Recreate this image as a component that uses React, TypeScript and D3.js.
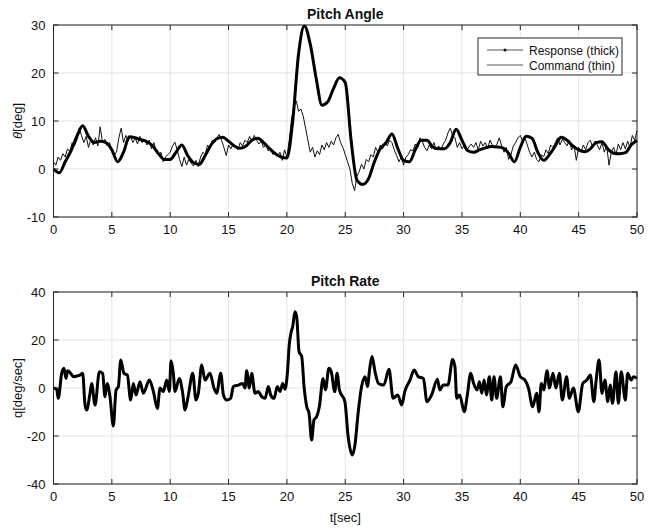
import React from "react";
import * as d3 from "d3";

// ---- Data ----
const xTicks = [0, 5, 10, 15, 20, 25, 30, 35, 40, 45, 50];
const thetaTicks = [-10, 0, 10, 20, 30];
const qTicks = [-40, -20, 0, 20, 40];

// Response (thick), sampled every 0.5 s from t = 0 to 50
const responseStep = 0.5;
const response = [
  0, -0.8, 1.5, 3.8, 6.8, 9.0, 6.8, 5.5, 5.8, 5.5,
  4.0, 1.5, 3.5, 6.7, 6.5, 6.1, 5.7, 4.8, 3.2, 2.0,
  2.0, 3.5, 5.0, 2.8, 1.3, 1.0, 2.8, 5.0, 6.3, 6.6,
  5.8, 4.8, 4.3, 4.8, 6.0, 6.4, 5.5, 4.3, 3.2, 2.5,
  2.3, 10.0, 24.0, 29.8, 26.0, 19.0, 13.3, 14.0, 16.8, 19.0,
  18.0, 6.0, -2.3, -3.2, -2.0, 1.5, 4.2, 5.5, 7.3, 4.3,
  1.8, 1.5, 4.0, 6.0, 6.0, 4.6, 4.2, 4.2, 5.5, 8.3,
  6.0, 3.8, 3.5, 4.0, 4.4, 4.7, 4.6, 4.4, 3.3, 1.5,
  4.5, 6.8, 6.4, 3.5, 1.8, 3.0, 4.8, 6.6, 6.0, 4.8,
  4.0, 3.6, 4.2, 5.5, 5.7, 4.2, 3.3, 3.2, 3.4, 5.0,
  6.0,
];

// Command (thin), sampled every 0.2 s from t = 0 to 50
const commandStep = 0.2;
const command = [
  1.5, 0.8, 2.5, 1.8, 3.2,  2.5, 4.2, 3.6, 5.5, 4.8,
  6.0, 8.5, 7.0, 5.5, 6.8,  4.5, 6.2, 5.0, 6.5, 4.8,
  8.8, 5.5, 6.2, 4.8, 5.5,  3.5, 2.8, 3.5, 6.5, 8.5,
  5.5, 7.0, 5.8, 6.8, 5.5,  6.5, 5.2, 6.8, 5.5, 6.2,
  5.0, 6.0, 4.2, 5.5, 3.5,  2.8, 3.5, 1.5, 2.5, 3.0,
  3.5, 4.8, 5.6, 4.0, 2.0,  0.5, 2.5, 0.8, 2.0, 1.2,
  0.6, 1.8, 0.5, 2.5, 3.5,  3.0, 5.0, 4.2, 6.0, 5.5,
  6.5, 7.2, 6.0, 4.5, 2.8,  5.0, 4.2, 5.2, 4.5, 4.0,
  5.5, 4.8, 6.0, 5.5, 6.8,  5.8, 7.0, 6.0, 5.2, 5.8,
  4.5, 5.0, 3.8, 4.2, 3.0,  3.5, 2.5, 3.5, 1.8, 4.0,
  2.5, 6.0, 10.5, 13.0, 14.2,  12.0, 12.5, 11.0, 8.5, 6.0,
  3.5, 4.5, 2.5, 3.8, 3.0,  5.0, 4.0, 5.5, 4.5, 5.8,
  5.0, 6.5, 7.2, 5.5, 4.5,  3.0, 1.5, 0.0, -3.0, -4.5,
  -1.5, -0.5, 1.0, 0.0, 2.0,  1.5, 3.0, 2.5, 4.5, 3.5,
  5.0, 4.2, 5.5, 4.8, 6.0,  5.5, 4.0, 2.8, 1.5, 2.5,
  0.8, 2.5, 3.0, 4.0, 3.8,  5.2, 4.5, 6.5, 5.8, 4.5,
  3.8, 5.0, 4.2, 5.5, 4.0,  4.8, 4.0, 5.2, 6.0, 7.5,
  8.5, 7.0, 6.5, 4.5, 5.5,  4.2, 5.0, 3.8, 4.6, 5.2,
  4.5, 5.5, 4.0, 5.8, 4.8,  5.5, 4.2, 6.0, 5.0, 4.5,
  5.2, 6.5, 4.8, 3.5, 4.5,  2.0, 3.0, 4.8, 5.5, 6.5,
  7.0, 5.8, 6.5, 5.0, 3.5,  2.5, 3.5, 2.0, 1.5, 3.0,
  2.5, 4.0, 3.2, 5.0, 4.5,  5.5, 6.5, 5.0, 6.2, 5.5,
  4.8, 6.0, 4.0, 5.0, 1.8,  4.5, 3.5, 5.0, 4.0, 5.5,
  6.0, 4.5, 5.8, 5.0, 4.0,  5.5, 3.5, 4.8, 0.8, 3.5,
  4.5, 3.0, 5.2, 4.0, 5.5,  4.2, 5.8, 4.5, 7.0, 6.0,
  8.0,
];

// Pitch rate q: times and values read at the turning points
const qTime = [
  0, 0.27, 0.41, 0.7, 0.9, 1.07, 1.21, 1.47, 1.7, 2.0, 2.27, 2.5, 2.7, 2.84,
  3.13, 3.27, 3.56, 3.93, 4.21, 4.41, 4.6, 4.84, 5.13, 5.36, 5.56, 5.76, 6.04,
  6.33, 6.61, 6.84, 7.07, 7.41, 7.7, 8.21, 8.56, 8.9, 9.13, 9.41, 9.7, 9.93,
  10.07, 10.27, 10.41, 10.78, 11.07, 11.27, 11.56, 11.93, 12.21, 12.41, 12.7,
  12.98, 13.41, 13.75, 13.98, 14.33, 14.56, 14.84, 15.18, 15.41, 15.84, 16.21,
  16.41, 16.55, 16.78, 16.98, 17.27, 17.55, 17.84, 18.13, 18.41, 18.61, 18.9,
  19.18, 19.41, 19.64, 19.84, 20.04, 20.2, 20.35, 20.5, 20.69, 20.84, 21.04,
  21.27, 21.47, 21.7, 21.9, 22.12, 22.32, 22.55, 22.78, 23.1, 23.3, 23.6, 23.8,
  24.1, 24.3, 24.5, 24.97, 25.25, 25.6, 25.83, 26.1, 26.4, 26.7, 26.9, 27.1,
  27.3, 27.55, 27.85, 28.3, 28.75, 29.1, 29.5, 29.84, 30.1, 30.55, 30.9, 31.26,
  31.7, 32.0, 32.4, 32.9, 33.1, 33.4, 33.8, 34.2, 34.4, 34.55, 34.8, 35.2,
  35.46, 35.75, 36.0, 36.3, 36.5, 36.7, 36.9, 37.1, 37.35, 37.55, 37.75, 37.97,
  38.3, 38.5, 38.8, 39.2, 39.6, 40.0, 40.4, 40.7, 41.06, 41.4, 41.6, 41.8, 42.0,
  42.3, 42.5, 42.8, 43.05, 43.35, 43.6, 43.97, 44.2, 44.55, 44.97, 45.35, 45.7,
  46.0, 46.3, 46.5, 46.75, 47.0, 47.25, 47.5, 47.7, 47.9, 48.2, 48.4, 48.65,
  49.0, 49.2, 49.5, 49.7, 50,
];
const qValue = [
  0, -0.5, -4.3, 6.1, 8.2, 4.0, 7.2, 6.1, 4.7, 5.0, 5.4, 6.1, -7.0, -9.2,
  -2.2, 1.9, -7.1, 6.8, 6.1, -3.6, 1.9, -3.6, -15.8, -0.8, 0.6, 11.7, 6.1,
  5.4, -5.0, 1.9, -2.9, 2.6, -2.2, 3.3, -1.5, -8.5, 0, -1.5, 3.3, -1.5,
  11.4, 6.1, -1.5, 4.0, -2.2, -9.2, -2.9, 6.1, -5.0, -2.2, 9.6,
  3.3, 6.1, 0, -2.2, 6.1, -2.9, -5.0, -4.3, 0.6, 1.2, 1.9,
  0, 7.2, 0, 6.1, -2.2, -1.5, -3.6, -4.3, 0.6, -2.9, -4.3,
  0.6, -1.5, 1.9, -0.5, 6.1, 18, 23, 25.6, 31.8, 29.7, 15.1,
  13.1, 0.6, -7.8, -10.6, -21.7, -13.3, -11.9, -7.8, 4.0, -0.8, 8.2, 6.8,
  -1.5, 6.1, -0.8, -5.7, -20.3, -27.9, -23.8, -10.6, 0.6, 4.7, 0.6, 8.2,
  13.1, 6.8, 1.9, 1.2, 7.8, -4.3, -2.9, -7.1, -1.5, 3.3, 7.5, 4.7,
  4.0, -5.7, -2.9, 3.6, -0.8, 1.2, 1.2, 11.9, 8.9, -4.3, -2.9, -9.9,
  -2.9, 6.1, 1.9, -0.8, 2.6, -2.2, 3.3, -2.9, 4.7, -5.0, 4.7, -4.3,
  4.7, -7.8, 0.6, 2.6, 9.6, 4.7, 3.3, 0, -7.8, -2.2, -9.9, 1.9, -0.8,
  7.2, 0, 6.1, 0, 6.1, -5.0, 4.7, -4.3, 0, -9.9, 1.9, 3.3,
  5.4, -5.7, 3.3, 11.7, -2.2, 3.3, -5.7, 1.2, -6.4, 6.8, -6.4, 6.8,
  -5.0, 6.1, 3.3, 4.7, 4,
];

const FONT = "'Liberation Sans', Arial, Helvetica, sans-serif";
const AXIS = "#262626";
const GRID = "#e3e3e3";

const W = 650;
const H = 529;
const left = 53.5;
const right = 637;

const x = d3.scaleLinear().domain([0, 50]).range([left, right]);
const yTop = d3.scaleLinear().domain([-10, 30]).range([217, 25]);
const yBot = d3.scaleLinear().domain([-40, 40]).range([484, 292]);

type Pt = [number, number];

function Panel({
  y,
  yTicks,
  title,
  ylabel,
  children,
}: {
  y: d3.ScaleLinear<number, number>;
  yTicks: number[];
  title: string;
  ylabel: React.ReactNode;
  children?: React.ReactNode;
}) {
  const [y0, y1] = y.range();
  const top = Math.min(y0, y1);
  const bottom = Math.max(y0, y1);
  const tick = 5;
  return (
    <g>
      {xTicks.map((t) => (
        <line key={"gx" + t} x1={x(t)} x2={x(t)} y1={top} y2={bottom} stroke={GRID} strokeWidth={1} />
      ))}
      {yTicks.map((t) => (
        <line key={"gy" + t} x1={left} x2={right} y1={y(t)} y2={y(t)} stroke={GRID} strokeWidth={1} />
      ))}
      <g>{children}</g>
      <rect x={left} y={top} width={right - left} height={bottom - top} fill="none" stroke={AXIS} strokeWidth={1} />
      {xTicks.map((t) => (
        <g key={"tx" + t}>
          <line x1={x(t)} x2={x(t)} y1={bottom} y2={bottom - tick} stroke={AXIS} />
          <line x1={x(t)} x2={x(t)} y1={top} y2={top + tick} stroke={AXIS} />
          <text x={x(t)} y={bottom + 17} textAnchor="middle" fontSize={13} fontFamily={FONT} fill="#111">
            {t}
          </text>
        </g>
      ))}
      {yTicks.map((t) => (
        <g key={"ty" + t}>
          <line x1={left} x2={left + tick} y1={y(t)} y2={y(t)} stroke={AXIS} />
          <line x1={right} x2={right - tick} y1={y(t)} y2={y(t)} stroke={AXIS} />
          <text x={left - 8} y={y(t) + 4.5} textAnchor="end" fontSize={13} fontFamily={FONT} fill="#111">
            {t}
          </text>
        </g>
      ))}
      <text x={(left + right) / 2} y={top - 6} textAnchor="middle" fontSize={14} fontWeight="bold" fontFamily={FONT} fill="#111">
        {title}
      </text>
      <text
        transform={`translate(22, ${(top + bottom) / 2}) rotate(-90)`}
        textAnchor="middle"
        fontSize={13}
        fontFamily={FONT}
        fill="#111"
      >
        {ylabel}
      </text>
    </g>
  );
}

export default function App() {
  const respPts: Pt[] = response.map((v, i) => [i * responseStep, v]);
  const cmdPts: Pt[] = command.map((v, i) => [i * commandStep, v]);
  const qPts: Pt[] = qValue.map((v, i) => [qTime[i], v]);

  const lineTop = d3
    .line<Pt>()
    .x((d) => x(d[0]))
    .y((d) => yTop(d[1]));
  const lineTopSmooth = d3
    .line<Pt>()
    .x((d) => x(d[0]))
    .y((d) => yTop(d[1]))
    .curve(d3.curveMonotoneX);
  const lineBot = d3
    .line<Pt>()
    .x((d) => x(d[0]))
    .y((d) => yBot(d[1]))
    .curve(d3.curveMonotoneX);

  const lx = 478;
  const ly = 38;
  return (
    <svg width={W} height={H} style={{ position: "absolute", left: 0, top: 0, background: "#fff" }}>
      <rect x={0} y={0} width={W} height={H} fill="#fff" />
      <Panel
        y={yTop}
        yTicks={thetaTicks}
        title="Pitch Angle"
        ylabel={
          <>
            <tspan fontStyle="italic">θ</tspan>
            <tspan>[deg]</tspan>
          </>
        }
      >
        <path d={lineTop(cmdPts) || ""} fill="none" stroke="#111" strokeWidth={1} />
        <path d={lineTopSmooth(respPts) || ""} fill="none" stroke="#000" strokeWidth={3} strokeLinejoin="round" />
      </Panel>
      <Panel y={yBot} yTicks={qTicks} title="Pitch Rate" ylabel="q[deg/sec]">
        <path d={lineBot(qPts) || ""} fill="none" stroke="#000" strokeWidth={3} strokeLinejoin="round" />
      </Panel>

      <g>
        <rect x={lx} y={ly} width={144} height={37} fill="#fff" stroke={AXIS} strokeWidth={1} />
        <line x1={lx + 9} x2={lx + 45} y1={ly + 12} y2={ly + 12} stroke="#555" strokeWidth={1} />
        <circle cx={lx + 27} cy={ly + 12} r={1.5} fill="#111" />
        <text x={lx + 51} y={ly + 16.5} fontSize={12} fontFamily={FONT} fill="#111">
          Response (thick)
        </text>
        <line x1={lx + 9} x2={lx + 45} y1={ly + 27} y2={ly + 27} stroke="#555" strokeWidth={1} />
        <text x={lx + 51} y={ly + 31.5} fontSize={12} fontFamily={FONT} fill="#111">
          Command (thin)
        </text>
      </g>

      <text x={(left + right) / 2} y={522} textAnchor="middle" fontSize={13} fontFamily={FONT} fill="#111">
        t[sec]
      </text>
    </svg>
  );
}
